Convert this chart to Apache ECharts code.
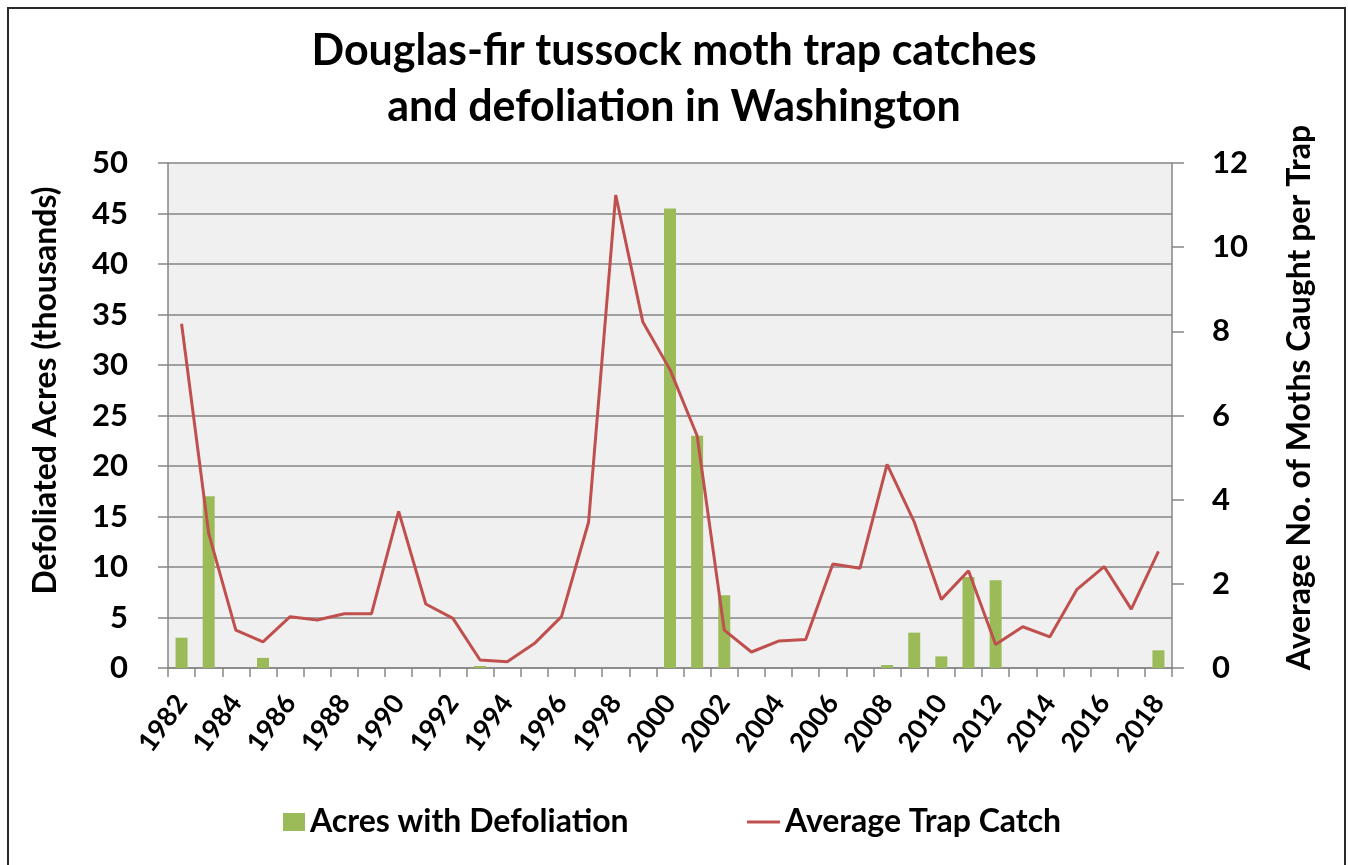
<!DOCTYPE html>
<html>
<head>
<meta charset="utf-8">
<script src="https://cdn.jsdelivr.net/npm/echarts@6/dist/echarts.min.js"></script>
<style>
html,body{margin:0;padding:0;background:#fff;}
#chart{width:1348px;height:865px;}
</style>
</head>
<body>
<div id="chart"></div>
<script>
const years = ['1982','1983','1984','1985','1986','1987','1988','1989','1990','1991','1992','1993','1994','1995','1996','1997','1998','1999','2000','2001','2002','2003','2004','2005','2006','2007','2008','2009','2010','2011','2012','2013','2014','2015','2016','2017','2018'];
const acresDefoliated = [3.0,17.0,0,1.0,0,0,0,0,0,0,0,0.2,0,0,0,0,0,0,45.5,23.0,7.2,0,0,0,0,0,0.3,3.5,1.15,9.0,8.7,0,0,0,0,0,1.75];
const avgTrapCatch = [8.18,3.2,0.90,0.62,1.22,1.14,1.29,1.29,3.72,1.52,1.18,0.19,0.15,0.58,1.22,3.47,11.24,8.22,7.09,5.52,0.90,0.38,0.64,0.68,2.47,2.37,4.84,3.47,1.63,2.31,0.56,0.98,0.74,1.87,2.41,1.40,2.77];
const leftTicks = {min:0,max:50,interval:5};
const rightTicks = {min:0,max:12,interval:2};

const FONT = 'Lato';
const chart = echarts.init(document.getElementById('chart'), null, {renderer:'canvas'});
chart.setOption({
  backgroundColor:'#ffffff',
  animation:false,
  graphic:[{
    type:'rect', silent:true, z:-1,
    shape:{x:8,y:8,width:1337,height:900},
    style:{fill:'none',stroke:'#2a2a2a',lineWidth:2}
  }],
  title:{
    text:'Douglas-fir tussock moth trap catches\nand defoliation in Washington',
    left:'center', top:18,
    textStyle:{fontFamily:FONT,fontWeight:'bold',fontSize:43,lineHeight:56,color:'#000'}
  },
  legend:[{
    data:[{name:'Acres with Defoliation',icon:'rect'}],
    left:278, top:801, itemWidth:22, itemHeight:18,
    textStyle:{fontFamily:FONT,fontWeight:'bold',fontSize:32,color:'#000'}
  },{
    data:[{name:'Average Trap Catch',icon:'rect'}],
    left:742, top:801, itemWidth:33, itemHeight:3,
    textStyle:{fontFamily:FONT,fontWeight:'bold',fontSize:32,color:'#000'}
  }],
  grid:{left:168,right:176,top:163,bottom:197,show:true,backgroundColor:'#f0f0f0',borderWidth:0},
  xAxis:{
    type:'category', data:years, boundaryGap:true,
    axisLine:{lineStyle:{color:'#868686',width:1.5}},
    axisTick:{show:true,interval:0,length:9,lineStyle:{color:'#868686',width:1.5}},
    axisLabel:{interval:1,rotate:54,margin:30,fontFamily:FONT,fontWeight:'bold',fontSize:27,color:'#000'}
  },
  yAxis:[{
    type:'value', min:leftTicks.min, max:leftTicks.max, interval:leftTicks.interval, position:'left',
    name:'Defoliated Acres (thousands)', nameLocation:'middle', nameGap:106, nameRotate:90,
    nameTextStyle:{fontFamily:FONT,fontWeight:'bold',fontSize:32,color:'#000',padding:[0,0,0,50]},
    axisLine:{show:true,lineStyle:{color:'#868686',width:1.5}},
    axisTick:{show:true,length:10,lineStyle:{color:'#868686',width:1.5}},
    axisLabel:{margin:40,fontFamily:FONT,fontWeight:'bold',fontSize:31,color:'#000'},
    splitLine:{show:true,lineStyle:{color:'#868686',width:1.5}}
  },{
    type:'value', min:rightTicks.min, max:rightTicks.max, interval:rightTicks.interval, position:'right',
    name:'Average No. of Moths Caught per Trap', nameLocation:'middle', nameGap:112, nameRotate:90,
    nameTextStyle:{fontFamily:FONT,fontWeight:'bold',fontSize:32,color:'#000',padding:[0,0,0,36]},
    axisLine:{show:true,lineStyle:{color:'#868686',width:1.5}},
    axisTick:{show:true,length:12,lineStyle:{color:'#868686',width:1.5}},
    axisLabel:{margin:40,fontFamily:FONT,fontWeight:'bold',fontSize:31,color:'#000'},
    splitLine:{show:false}
  }],
  series:[{
    name:'Acres with Defoliation', type:'bar', yAxisIndex:0, data:acresDefoliated,
    barWidth:12, itemStyle:{color:'#9bbb59'}
  },{
    name:'Average Trap Catch', type:'line', yAxisIndex:1, data:avgTrapCatch,
    showSymbol:false, symbol:'none', lineStyle:{color:'#c0504d',width:3}, itemStyle:{color:'#c0504d'}
  }]
});
</script>
</body>
</html>
